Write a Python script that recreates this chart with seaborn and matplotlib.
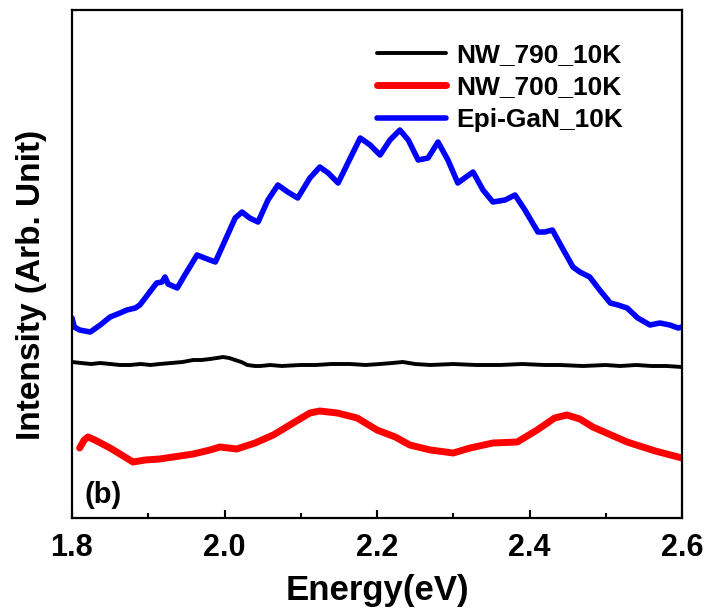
import matplotlib
matplotlib.use("Agg")
import matplotlib.pyplot as plt
import seaborn as sns
import numpy as np
from matplotlib.ticker import MultipleLocator

sns.set_theme(style="white")
plt.rcParams['font.family'] = ['Liberation Sans', 'DejaVu Sans']
plt.rcParams['font.weight'] = 'bold'
plt.rcParams['text.color'] = 'black'
plt.rcParams['axes.labelcolor'] = 'black'
plt.rcParams['xtick.color'] = 'black'
plt.rcParams['ytick.color'] = 'black'

# ---- data ----
black_E = [1.800, 1.812, 1.825, 1.837, 1.850, 1.863, 1.876, 1.890, 1.903, 1.915,
           1.930, 1.945, 1.959, 1.970, 1.981, 1.990, 1.998, 2.006, 2.014, 2.022,
           2.030, 2.040, 2.047, 2.060, 2.075, 2.099, 2.120, 2.140, 2.165, 2.185,
           2.204, 2.220, 2.234, 2.250, 2.270, 2.300, 2.330, 2.362, 2.390, 2.420,
           2.440, 2.470, 2.500, 2.519, 2.540, 2.560, 2.580, 2.600]
black_I = [156, 155, 154, 155, 154, 153, 153, 154, 153, 154,
           155, 156, 158, 158, 159, 160, 161, 160, 158, 156,
           153, 152, 152, 153, 152, 153, 153, 154, 154, 153,
           154, 155, 156, 154, 153, 154, 153, 153, 154, 153,
           153, 152, 153, 152, 153, 152, 152, 151]

red_E = [1.810, 1.816, 1.821, 1.830, 1.850, 1.880, 1.896, 1.915, 1.959, 1.981,
         1.994, 2.016, 2.040, 2.064, 2.090, 2.112, 2.125, 2.148, 2.174, 2.200,
         2.224, 2.243, 2.270, 2.300, 2.322, 2.352, 2.384, 2.410, 2.433, 2.449,
         2.466, 2.483, 2.528, 2.565, 2.600]
red_I = [70, 78, 81, 78, 70, 56, 58, 59, 64, 68,
         71, 69, 75, 83, 95, 105, 107, 105, 100, 88,
         81, 73, 68, 65, 70, 75, 76, 88, 100, 103,
         99, 91, 76, 67, 60]

blue_E = [1.800, 1.803, 1.810, 1.824, 1.837, 1.850, 1.863, 1.872, 1.883, 1.889,
          1.902, 1.911, 1.918, 1.922, 1.926, 1.938, 1.948, 1.964, 1.974, 1.988,
          2.001, 2.014, 2.023, 2.033, 2.044, 2.057, 2.070, 2.083, 2.096, 2.112,
          2.125, 2.136, 2.149, 2.165, 2.178, 2.191, 2.204, 2.217, 2.230, 2.241,
          2.254, 2.267, 2.280, 2.293, 2.306, 2.315, 2.326, 2.339, 2.352, 2.368,
          2.381, 2.394, 2.411, 2.420, 2.430, 2.443, 2.457, 2.466, 2.479, 2.492,
          2.506, 2.516, 2.528, 2.542, 2.558, 2.571, 2.584, 2.595, 2.600]
blue_I = [200, 191, 188, 186, 193, 201, 205, 208, 210, 213,
          226, 235, 236, 241, 234, 230, 243, 263, 260, 256,
          278, 300, 306, 300, 296, 318, 333, 326, 320, 340,
          351, 345, 335, 360, 380, 373, 363, 378, 388, 378,
          358, 360, 376, 358, 335, 340, 346, 328, 316, 318,
          323, 308, 286, 286, 288, 270, 251, 246, 241, 228,
          215, 213, 210, 200, 193, 195, 193, 190, 191]

labels = ["NW_790_10K", "NW_700_10K", "Epi-GaN_10K"]
colors = ["#000000", "#ff0000", "#0000ff"]
x_ticks = [1.8, 2.0, 2.2, 2.4, 2.6]

fig = plt.figure(figsize=(7.08, 6.13), dpi=100)
ax = fig.add_axes([72/708, 95/613, 610/708, 508/613])

sns.lineplot(x=black_E, y=black_I, ax=ax, color=colors[0], lw=2.8, label=labels[0],
             sort=False, solid_joinstyle='round', solid_capstyle='round')
sns.lineplot(x=red_E, y=red_I, ax=ax, color=colors[1], lw=5.0, label=labels[1],
             sort=False, solid_joinstyle='round', solid_capstyle='round')
sns.lineplot(x=blue_E, y=blue_I, ax=ax, color=colors[2], lw=4.0, label=labels[2],
             sort=False, solid_joinstyle='round', solid_capstyle='round')

ax.set_xlim(1.8, 2.6)
ax.set_ylim(0, 508)
ax.set_xticks(x_ticks)
ax.set_xticklabels([f"{t:.1f}" for t in x_ticks])
ax.xaxis.set_minor_locator(MultipleLocator(0.1))
ax.set_yticks([])
ax.tick_params(axis='x', which='major', direction='in', length=6, width=1.5,
               labelsize=22, pad=11, bottom=True, top=False, colors='black')
ax.tick_params(axis='x', which='minor', direction='in', length=3.5, width=1.5,
               bottom=True, top=False, colors='black')
for lab in ax.get_xticklabels():
    lab.set_fontweight('bold')
for s in ax.spines.values():
    s.set_linewidth(1.6)
    s.set_color('black')

ax.set_xlabel("Energy(eV)", fontsize=25, fontweight='bold', labelpad=8, color='black')
ax.set_ylabel("Intensity (Arb. Unit)", fontsize=24, fontweight='bold', color='black')
ax.yaxis.set_label_coords(-0.041, 0.459)

ax.text(0.021, 0.045, "(b)", transform=ax.transAxes, fontsize=21,
        fontweight='bold', va='center', ha='left', color='black')

leg = ax.legend(loc='upper left', bbox_to_anchor=(0.50, 0.935), frameon=False,
                fontsize=19, handlelength=2.6, handletextpad=0.4,
                labelspacing=0.32, borderpad=0, borderaxespad=0)
for t in leg.get_texts():
    t.set_fontweight('bold')
    t.set_color('black')

fig.savefig("out.png", dpi=100)
